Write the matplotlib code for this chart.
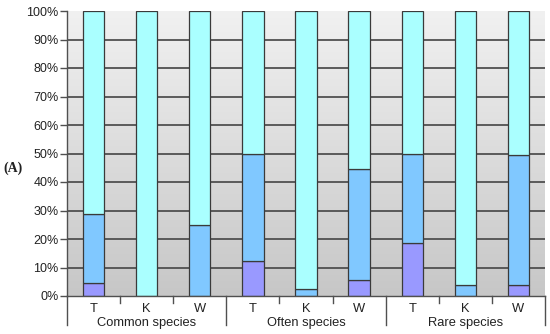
import matplotlib
matplotlib.use("Agg")
import matplotlib.pyplot as plt
import numpy as np
from matplotlib.transforms import blended_transform_factory

groups = ["Common species", "Often species", "Rare species"]
sub_labels = ["T", "K", "W"]
# stacked percentages (bottom to top)
purple = [4.5, 0.0, 0.0, 12.3, 0.0, 5.6, 18.5, 0.0, 3.8]
blue = [24.2, 0.0, 24.9, 37.7, 2.3, 38.8, 31.5, 3.8, 45.5]
cyan = [100 - p - b for p, b in zip(purple, blue)]
y_ticks = list(range(0, 101, 10))

W, H = 550, 334
fig = plt.figure(figsize=(W / 100, H / 100), dpi=100)
ax = fig.add_axes([67 / W, (H - 296) / H, (545 - 67) / W, (296 - 11) / H])

n = len(purple)
x = np.arange(n)
ax.set_xlim(-0.5, n - 0.5)
ax.set_ylim(0, 100)

# gradient background (light at top, darker at bottom)
grad = np.linspace(0, 1, 256).reshape(-1, 1)
top = np.array([0.945, 0.945, 0.945])
bot = np.array([0.78, 0.78, 0.78])
img = top[None, None, :] * (1 - grad[:, :, None]) + bot[None, None, :] * grad[:, :, None]
ax.imshow(img, extent=[-0.5, n - 0.5, 0, 100], origin="upper", aspect="auto", zorder=0)

for yv in y_ticks[1:-1]:
    ax.axhline(yv, color="#505050", lw=1.3, zorder=1)

bw = 0.4
ec = "#3a3a3a"
ax.bar(x, purple, bw, color="#9999ff", edgecolor=ec, lw=0.9, zorder=2)
ax.bar(x, blue, bw, bottom=purple, color="#80c8ff", edgecolor=ec, lw=0.9, zorder=2)
ax.bar(x, cyan, bw, bottom=np.array(purple) + np.array(blue), color="#aaffff", edgecolor=ec, lw=0.9, zorder=2)

for s in ["top", "right"]:
    ax.spines[s].set_visible(False)
ax.spines["left"].set_color("#505050")
ax.spines["bottom"].set_color("#505050")
ax.spines["left"].set_linewidth(1.0)
ax.spines["bottom"].set_linewidth(1.0)

ax.set_yticks(y_ticks)
ax.set_yticklabels([f"{v}%" for v in y_ticks], fontsize=9, family="Liberation Sans", color="#222222")
ax.tick_params(axis="y", length=5, color="#505050", width=1.0, pad=1)

# category axis
ax.set_xticks([])
trans = blended_transform_factory(ax.transData, fig.transFigure)
def fy(py):
    return (H - py) / H
for i in range(n + 1):
    xb = i - 0.5
    y2 = 325 if i % 3 == 0 else 303
    ax.add_line(plt.Line2D([xb, xb], [fy(296), fy(y2)], transform=trans, color="#505050",
                           lw=1.0, clip_on=False))

for i in range(n):
    ax.text(x[i], fy(309), sub_labels[i % 3], transform=trans, ha="center", va="center",
            fontsize=9.3, family="Liberation Sans", color="#222222")
for g, name in enumerate(groups):
    ax.text(3 * g + 1, fy(323), name, transform=trans, ha="center", va="center",
            fontsize=9.3, family="Liberation Sans", color="#222222")

fig.text(13 / W, fy(168), "(A)", ha="center", va="center", fontsize=10,
         family="Liberation Serif", fontweight="bold", color="#222222")

fig.savefig("out.png", dpi=100)
